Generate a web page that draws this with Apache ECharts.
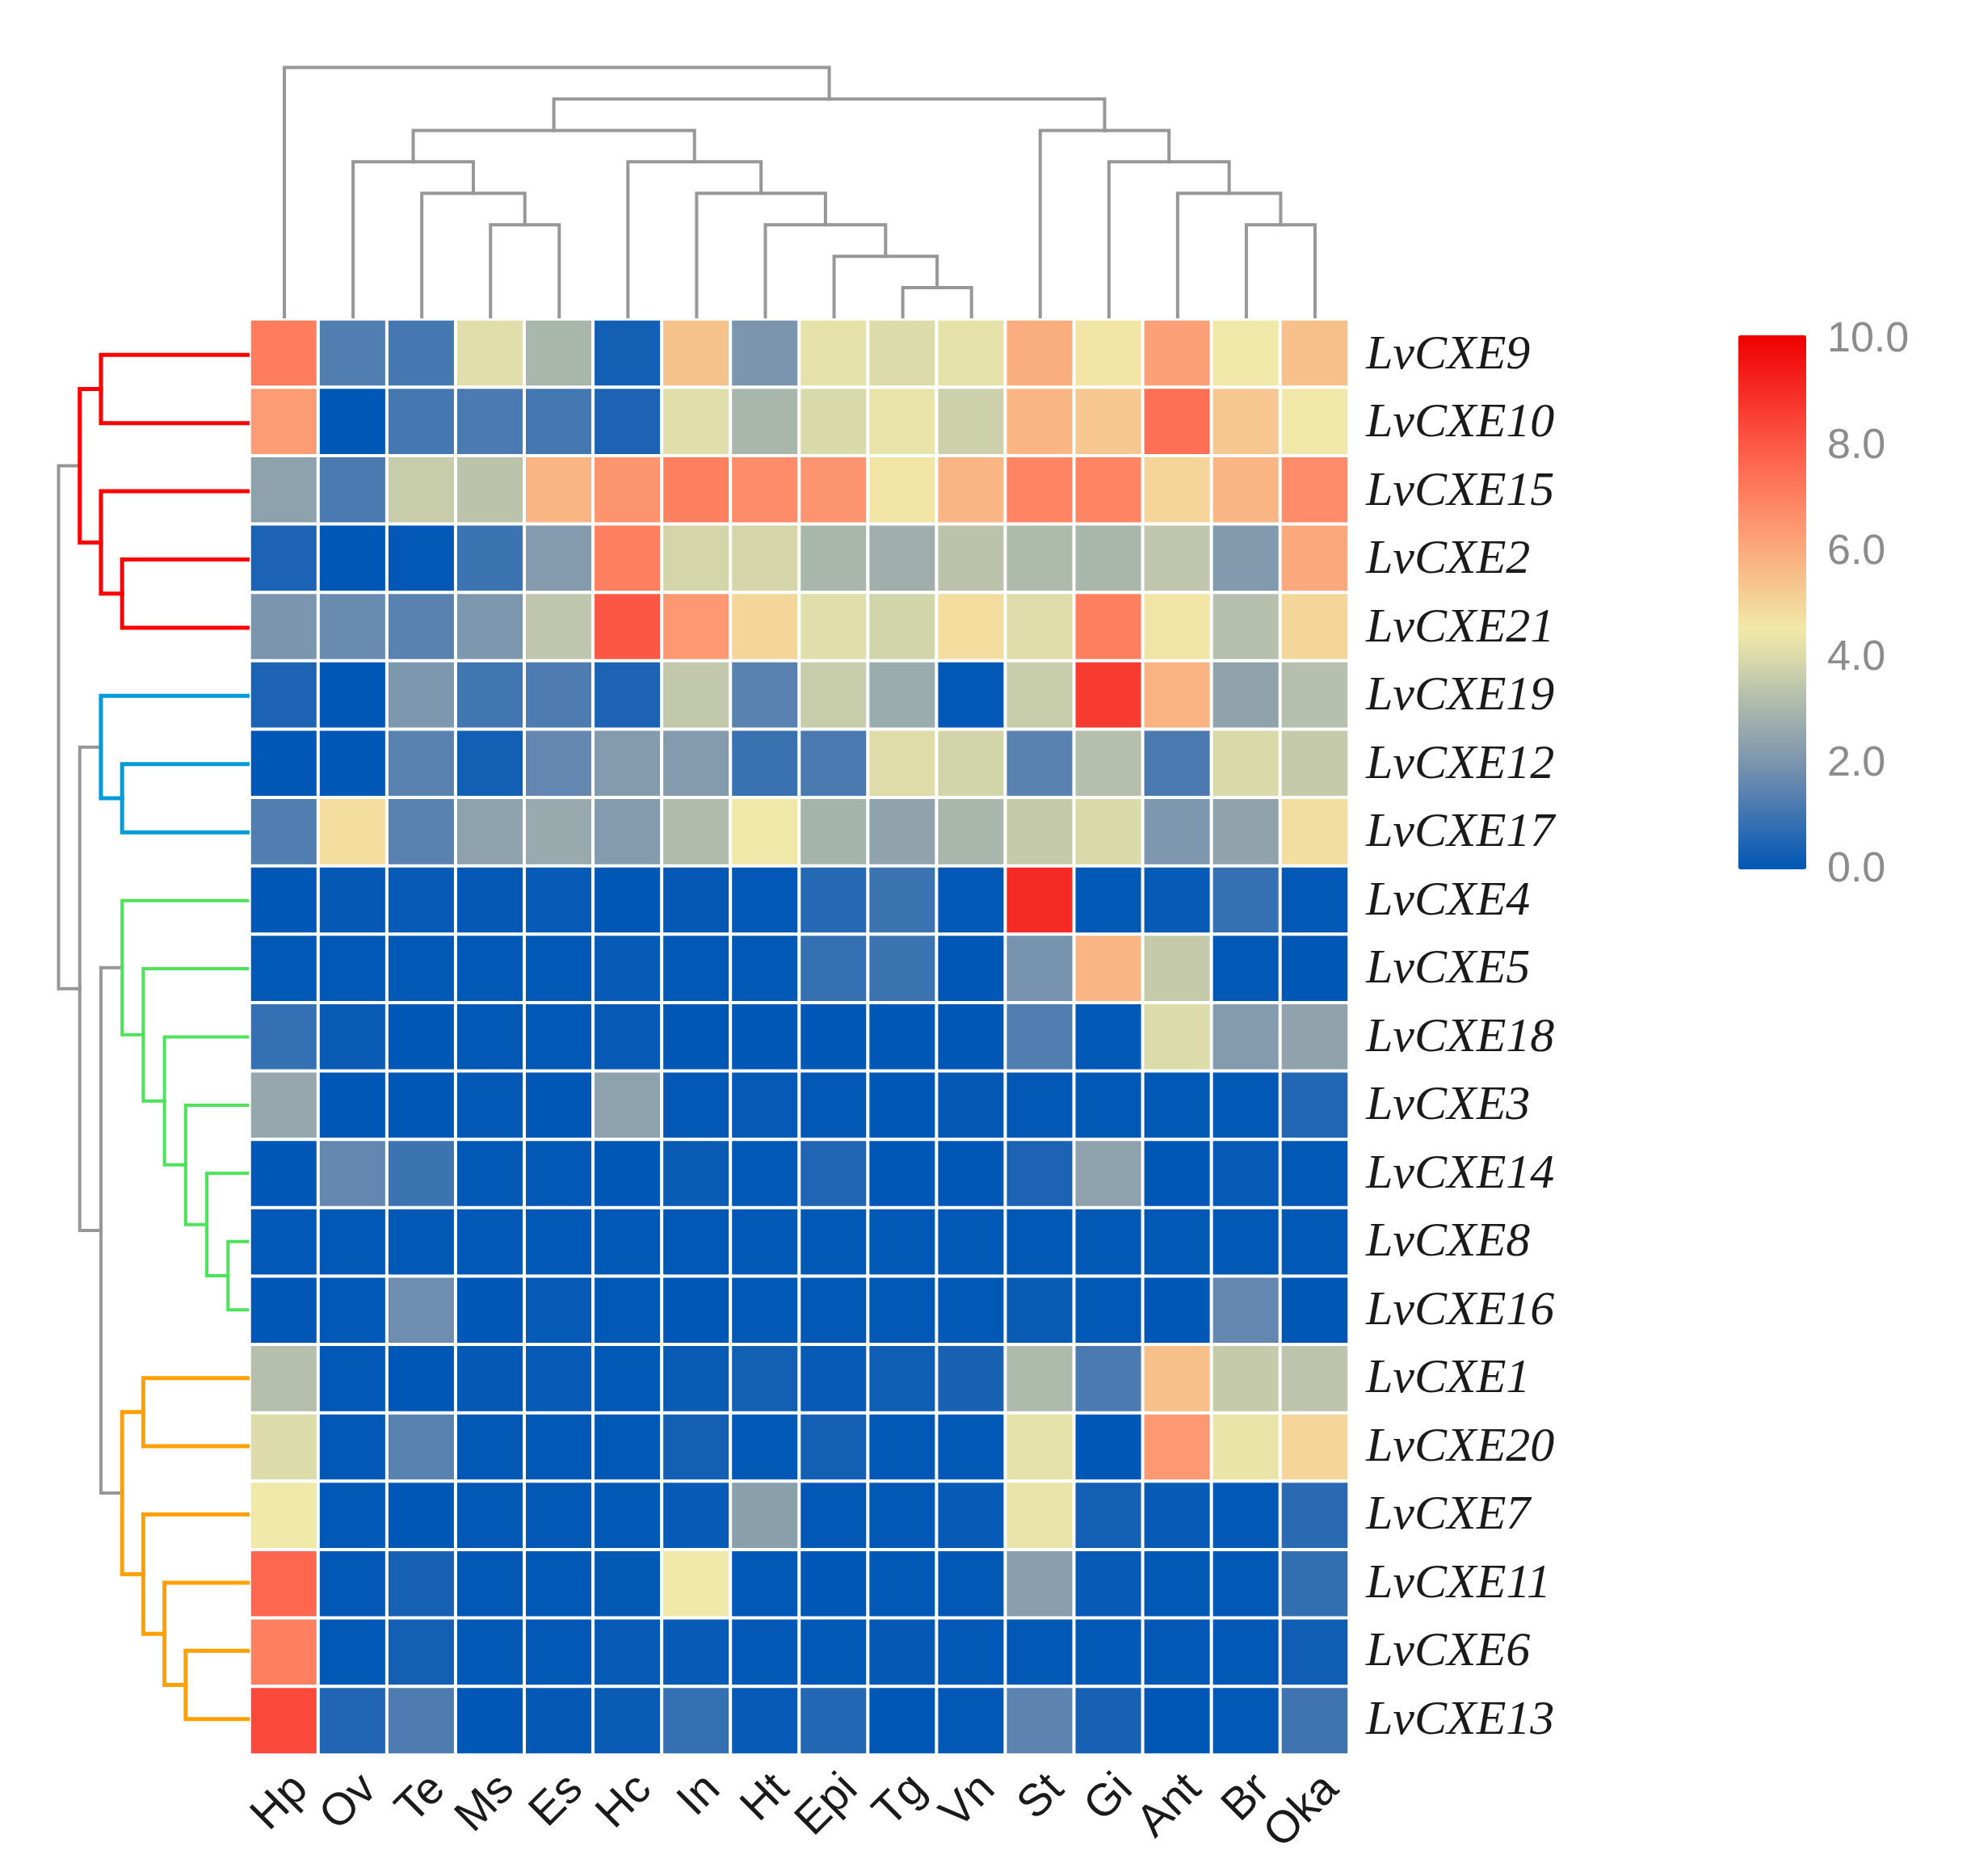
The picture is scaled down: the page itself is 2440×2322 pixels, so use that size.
<!DOCTYPE html>
<html>
<head>
<meta charset="utf-8">
<style>html,body{margin:0;padding:0;background:#fff}#c{width:2440px;height:2322px}</style>
<script src="https://cdn.jsdelivr.net/npm/echarts@6/dist/echarts.min.js"></script>
</head>
<body>
<div id="c"></div>
<script>
const tissues = ['Hp','Ov','Te','Ms','Es','Hc','In','Ht','Epi','Tg','Vn','St','Gi','Ant','Br','Oka'];
const genes = ['LvCXE9','LvCXE10','LvCXE15','LvCXE2','LvCXE21','LvCXE19','LvCXE12','LvCXE17','LvCXE4','LvCXE5','LvCXE18','LvCXE3','LvCXE14','LvCXE8','LvCXE16','LvCXE1','LvCXE20','LvCXE7','LvCXE11','LvCXE6','LvCXE13'];
const expression = [
 [7.1,1.3,1.1,4.1,3.0,0.3,5.4,2.0,4.2,4.0,4.2,5.9,4.6,6.2,4.5,5.5],
 [6.3,0.0,1.1,1.2,1.1,0.45,4.1,3.0,3.95,4.3,3.7,5.7,5.3,7.4,5.3,4.5],
 [2.4,1.2,3.6,3.35,5.7,6.5,7.0,6.7,6.5,4.6,5.7,6.9,6.9,5.0,5.7,6.7],
 [0.45,0.0,0.05,0.95,2.2,7.0,3.85,3.85,3.0,2.8,3.35,3.1,3.0,3.45,2.15,6.0],
 [2.0,1.7,1.45,2.05,3.45,8.0,6.4,4.95,4.1,3.8,4.8,4.05,7.0,4.6,3.25,4.95],
 [0.45,0.0,2.05,1.05,1.25,0.45,3.5,1.45,3.6,2.7,0.05,3.6,8.6,5.8,2.45,3.25],
 [0.0,0.0,1.45,0.3,1.6,2.2,2.2,0.9,1.2,4.05,3.8,1.45,3.25,1.2,3.95,3.55],
 [1.3,4.8,1.45,2.4,2.65,2.2,3.15,4.5,2.9,2.45,3.0,3.55,3.95,2.05,2.45,4.75],
 [0.0,0.08,0.12,0.08,0.12,0.0,0.08,0.05,0.6,0.95,0.05,9.0,0.02,0.12,0.85,0.05],
 [0.02,0.02,0.02,0.02,0.02,0.12,0.02,0.02,0.85,0.95,0.0,1.95,5.7,3.55,0.02,0.0],
 [0.85,0.15,0.0,0.05,0.02,0.1,0.0,0.0,0.0,0.0,0.0,1.3,0.02,4.0,2.2,2.45],
 [2.6,0.0,0.0,0.05,0.0,2.4,0.05,0.1,0.05,0.0,0.08,0.05,0.03,0.03,0.02,0.55],
 [0.0,1.6,0.95,0.02,0.05,0.0,0.15,0.02,0.5,0.0,0.0,0.45,2.4,0.0,0.1,0.03],
 [0.03,0.02,0.02,0.02,0.03,0.02,0.02,0.02,0.02,0.02,0.03,0.02,0.02,0.02,0.02,0.02],
 [0.0,0.04,1.8,0.0,0.1,0.03,0.0,0.03,0.05,0.05,0.02,0.15,0.03,0.0,1.6,0.0],
 [3.25,0.05,0.0,0.08,0.12,0.02,0.15,0.3,0.12,0.25,0.4,3.1,1.2,5.5,3.55,3.4],
 [4.0,0.05,1.45,0.05,0.03,0.03,0.3,0.02,0.3,0.02,0.02,4.2,0.0,6.4,4.35,5.0],
 [4.5,0.03,0.0,0.05,0.05,0.02,0.12,2.35,0.05,0.05,0.12,4.3,0.3,0.12,0.05,0.65],
 [7.6,0.05,0.35,0.05,0.04,0.06,4.5,0.02,0.0,0.03,0.05,2.3,0.12,0.03,0.05,0.8],
 [7.0,0.02,0.3,0.04,0.05,0.1,0.12,0.05,0.04,0.08,0.05,0.05,0.03,0.05,0.05,0.25],
 [8.3,0.5,1.25,0.0,0.08,0.15,0.85,0.12,0.55,0.0,0.05,1.5,0.35,0.0,0.02,1.0]
];
const scaleColors = ['#0057b5','#1f65b3','#3f74b1','#5d84b0','#7b95ae','#92a5ad','#a9b6ac','#c2c8ab','#dcdcaa','#f0e8a8','#f4d498','#f7bf8a','#fba97c','#fd9470','#ff8060','#fe6b52','#fc5644','#f93f34','#f62a24','#f21512','#ee0000'];

// Dendrogram merges: [node, childA, childB, depth]
const columnMerges = [
 ['c1','Tg','Vn',1],['c2','Epi','c1',2],['c3','Ht','c2',3],['c4','In','c3',4],['c5','Hc','c4',5],
 ['c6','Ms','Es',3],['c7','Te','c6',4],['c8','Ov','c7',5],['c9','c8','c5',6],
 ['c10','Br','Oka',3],['c11','Ant','c10',4],['c12','Gi','c11',5],['c13','St','c12',6],
 ['c14','c9','c13',7],['c15','Hp','c14',8]
];
// [node, childA, childB, depth, cluster]
const rowMerges = [
 ['r1','LvCXE9','LvCXE10',7,'red'],['r2','LvCXE2','LvCXE21',6,'red'],['r3','LvCXE15','r2',7,'red'],['r4','r1','r3',8,'red'],
 ['b1','LvCXE12','LvCXE17',6,'blue'],['b2','LvCXE19','b1',7,'blue'],
 ['g1','LvCXE8','LvCXE16',1,'green'],['g2','LvCXE14','g1',2,'green'],['g3','LvCXE3','g2',3,'green'],['g4','LvCXE18','g3',4,'green'],['g5','LvCXE5','g4',5,'green'],['g6','LvCXE4','g5',6,'green'],
 ['o1','LvCXE1','LvCXE20',5,'orange'],['o2','LvCXE6','LvCXE13',3,'orange'],['o3','LvCXE11','o2',4,'orange'],['o4','LvCXE7','o3',5,'orange'],['o5','o1','o4',6,'orange'],
 ['k1','g6','o5',7,'gray'],['k2','b2','k1',8,'gray'],['k3','r4','k2',9,'gray']
];
const clusterColor = {red:'#ff0000',blue:'#009cd8',green:'#4ce35a',orange:'#ff9f00',gray:'#979797'};
const clusterWidth = {red:5,blue:5,green:4,orange:5,gray:4};
const leafDepth = 0.08;

function layout(leaves, merges){
  const nodes = {};
  leaves.forEach((n,i)=>nodes[n]={pos:i+0.5,depth:leafDepth});
  return merges.map(m=>{
    const a=nodes[m[1]], b=nodes[m[2]], d=m[3];
    nodes[m[0]]={pos:(a.pos+b.pos)/2,depth:d};
    return {a,b,d,cluster:m[4]||'gray'};
  });
}

const heatData = [];
expression.forEach((row,r)=>row.forEach((v,c)=>heatData.push([c,r,v])));

const series = [{
  type:'heatmap', xAxisIndex:0, yAxisIndex:0, data:heatData, silent:true, progressive:0,
  itemStyle:{borderColor:'#ffffff',borderWidth:4}, emphasis:{disabled:true}
}];
layout(tissues,columnMerges).forEach(l=>series.push({
  type:'line', xAxisIndex:1, yAxisIndex:1, symbol:'none', silent:true, clip:false,
  lineStyle:{color:clusterColor.gray,width:4,cap:'square',join:'miter'},
  data:[[l.a.pos,l.a.depth],[l.a.pos,l.d],[l.b.pos,l.d],[l.b.pos,l.b.depth]]
}));
layout(genes,rowMerges).forEach(l=>series.push({
  type:'line', xAxisIndex:2, yAxisIndex:2, symbol:'none', silent:true, clip:false, z:l.cluster==='gray'?1:2,
  lineStyle:{color:clusterColor[l.cluster],width:clusterWidth[l.cluster],cap:'square',join:'miter'},
  data:[[l.a.depth,l.a.pos],[l.d,l.a.pos],[l.d,l.b.pos],[l.b.depth,l.b.pos]]
}));

const W=2440,H=2322;
const chart = echarts.init(document.getElementById('c'),null,{width:W,height:H,renderer:'canvas'});
chart.setOption({
  animation:false,
  backgroundColor:'#ffffff',
  grid:[
    {left:309,top:395,width:1361,height:1777},
    {left:309.5,top:83.5,width:1361,height:311.5},
    {left:72.5,top:397,width:236,height:1773},
    {left:2152,top:421,width:84,height:656},
    {left:330,top:398,width:1361,height:1774}
  ],
  xAxis:[
    {type:'category',gridIndex:0,data:tissues,axisLine:{show:false},axisTick:{show:false},axisLabel:{show:false},splitLine:{show:false}},
    {type:'value',gridIndex:1,min:0,max:16,show:false},
    {type:'value',gridIndex:2,min:0,max:9,inverse:true,show:false},
    {type:'value',gridIndex:3,min:0,max:1,show:false},
    {type:'category',gridIndex:4,data:tissues,position:'bottom',axisLine:{show:false},axisTick:{show:false},
     axisLabel:{interval:0,rotate:45,align:'right',verticalAlign:'middle',margin:34,fontFamily:'Liberation Sans',fontSize:56,color:'#1a1a1a'}}
  ],
  yAxis:[
    {type:'category',gridIndex:0,data:genes,inverse:true,show:false},
    {type:'value',gridIndex:1,min:0,max:8,show:false},
    {type:'value',gridIndex:2,min:0,max:21,inverse:true,show:false},
    {type:'value',gridIndex:3,min:0,max:10,interval:2,position:'right',axisLine:{show:false},axisTick:{show:false},splitLine:{show:false},
     axisLabel:{margin:26,fontFamily:'Liberation Sans',fontSize:52,color:'#8c8c8c',formatter:v=>v.toFixed(1)}},
    {type:'category',gridIndex:4,data:genes,inverse:true,position:'right',offset:-21,axisLine:{show:false},axisTick:{show:false},splitLine:{show:false},
     axisLabel:{interval:0,margin:21,align:'left',fontFamily:'Liberation Serif',fontStyle:'italic',fontSize:60,color:'#1a1a1a'}}
  ],
  visualMap:{
    type:'continuous', seriesIndex:0, min:0, max:10, left:2152, top:415, itemWidth:84, itemHeight:661,
    padding:0, calculable:false, hoverLink:false, inRange:{color:scaleColors}
  },
  series
});
</script>
</body>
</html>
